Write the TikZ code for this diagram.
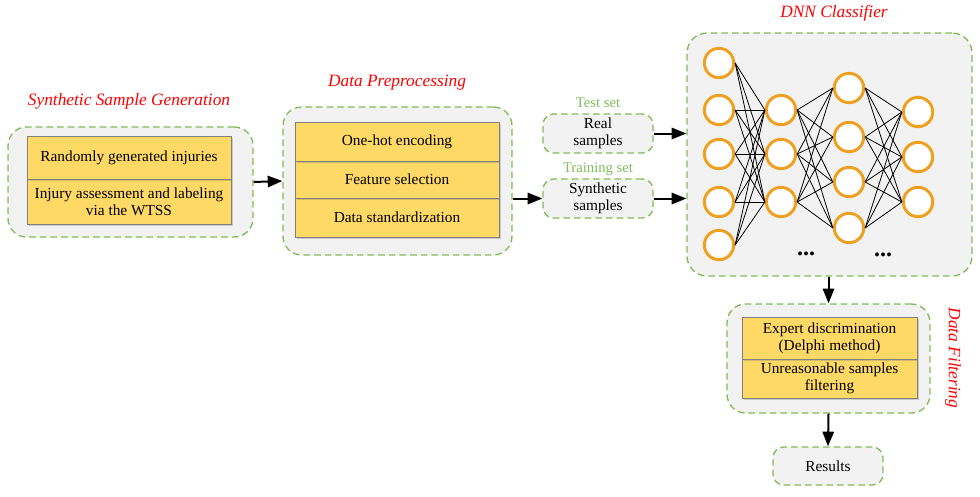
\documentclass[tikz,border=0pt]{standalone}
\usepackage{fontspec}
\setmainfont{Liberation Serif}
\usetikzlibrary{arrows.meta,shadows}
\definecolor{dgreen}{RGB}{128,188,88}
\definecolor{boxgray}{RGB}{242,242,242}
\definecolor{cellyellow}{RGB}{255,217,102}
\definecolor{cellborder}{RGB}{128,128,128}
\definecolor{neuronorange}{RGB}{240,160,30}
\begin{document}
\begin{tikzpicture}[x=0.75pt,y=-0.75pt,
  group/.style={draw=dgreen, dash pattern=on 5pt off 3pt, line width=1pt, fill=boxgray, rounded corners=14pt, inner sep=0pt},
  smallgroup/.style={group, rounded corners=8pt, align=center, font=\fontsize{11.5}{12.5}\selectfont},
  cell/.style={draw=cellborder, fill=cellyellow, line width=0.6pt, align=center, inner sep=0pt,
    font=\fontsize{11.5}{13}\selectfont, drop shadow={opacity=0.35, shadow xshift=1.2pt, shadow yshift=-1.2pt}},
  neuron/.style={circle, draw=neuronorange, line width=2.2pt, fill=white, minimum size=22pt, inner sep=0pt,
    drop shadow={opacity=0.3, shadow xshift=0.8pt, shadow yshift=-0.8pt}},
  title/.style={text=red, font=\itshape\fontsize{13}{15}\selectfont},
  setlabel/.style={text=dgreen, font=\fontsize{11}{12}\selectfont},
  arr/.style={-{Triangle[length=11pt,width=8.5pt]}, line width=1.5pt},
  link/.style={line width=0.6pt},
  dots/.style={font=\bfseries\fontsize{18}{18}\selectfont, inner sep=0pt}
]
\useasboundingbox (0,0) rectangle (980,496);

% Synthetic sample generation
\node[title] (t1) at (129,101) {Synthetic Sample Generation};
\node[group, minimum width=183.75pt, minimum height=82.5pt] (g1) at (130.5,182) {};
\node[cell, minimum width=153pt, minimum height=33.75pt] (c12) at (129,201.5) {Injury assessment and labeling\\via the WTSS};
\node[cell, minimum width=153pt, minimum height=32.25pt] (c11) at (129,157.5) {Randomly generated injuries};

% Data preprocessing
\node[title] (t2) at (397,83) {Data Preprocessing};
\node[group, minimum width=171.75pt, minimum height=111pt] (g2) at (397.5,181) {};
\node[cell, minimum width=153pt, minimum height=29.25pt] (c23) at (397,217.5) {Data standardization};
\node[cell, minimum width=153pt, minimum height=27.75pt] (c22) at (397,179.5) {Feature selection};
\node[cell, minimum width=153pt, minimum height=29.25pt] (c21) at (397,141.5) {One-hot encoding};

% Sets
\node[setlabel] (lt) at (598,103) {Test set};
\node[smallgroup, minimum width=82.5pt, minimum height=29.25pt] (real) at (598,133.5) {Real\\samples};
\node[setlabel] (ltr) at (598,169) {Training set};
\node[smallgroup, minimum width=82.5pt, minimum height=29.25pt] (syn) at (598,198.5) {Synthetic\\samples};

% DNN classifier
\node[title] (t3) at (834,13) {DNN Classifier};
\node[group, rounded corners=15pt, minimum width=213.75pt, minimum height=182.25pt] (dnn) at (829.5,154.5) {};

\foreach \i/\y in {1/63,2/110,3/154,4/202,5/245} \node[neuron] (a\i) at (719,\y) {};
\foreach \i/\y in {1/110,2/154,3/202} \node[neuron] (b\i) at (781,\y) {};
\foreach \i/\y in {1/88,2/137,3/182,4/228} \node[neuron] (c\i) at (849,\y) {};
\foreach \i/\y in {1/112,2/157,3/202} \node[neuron] (d\i) at (918,\y) {};

\foreach \i in {1,...,5} \foreach \j in {1,2,3} \draw[link] (a\i.east) -- (b\j.west);
\foreach \i in {1,2,3} \foreach \j in {1,...,4} \draw[link] (b\i.east) -- (c\j.west);
\foreach \i in {1,...,4} \foreach \j in {1,2,3} \draw[link] (c\i.east) -- (d\j.west);

\node[dots] (dots1) at (806,254) {...};
\node[dots] (dots2) at (883,255) {...};

% Data filtering
\node[group, minimum width=152.25pt, minimum height=81.75pt] (g4) at (828.5,358.5) {};
\node[cell, minimum width=131.25pt, minimum height=29.25pt] (c42) at (829.5,378.5) {Unreasonable samples\\filtering};
\node[cell, minimum width=131.25pt, minimum height=31.5pt] (c41) at (829.5,338) {Expert discrimination\\(Delphi method)};
\node[title, rotate=-90] (t4) at (953,358) {Data Filtering};

\node[smallgroup, minimum width=82.5pt, minimum height=28.5pt] (res) at (828,466) {Results};

% Arrows
\draw[arr] (g1.east) -- (g2.west);
\draw[arr] (g2.east |- syn.west) -- (syn.west);
\draw[arr] (real.east) -- (real.east -| dnn.west);
\draw[arr] (syn.east) -- (syn.east -| dnn.west);
\draw[arr] (g4.north |- dnn.south) -- (g4.north);
\draw[arr] (g4.south) -- (res.north);
\end{tikzpicture}
\end{document}
